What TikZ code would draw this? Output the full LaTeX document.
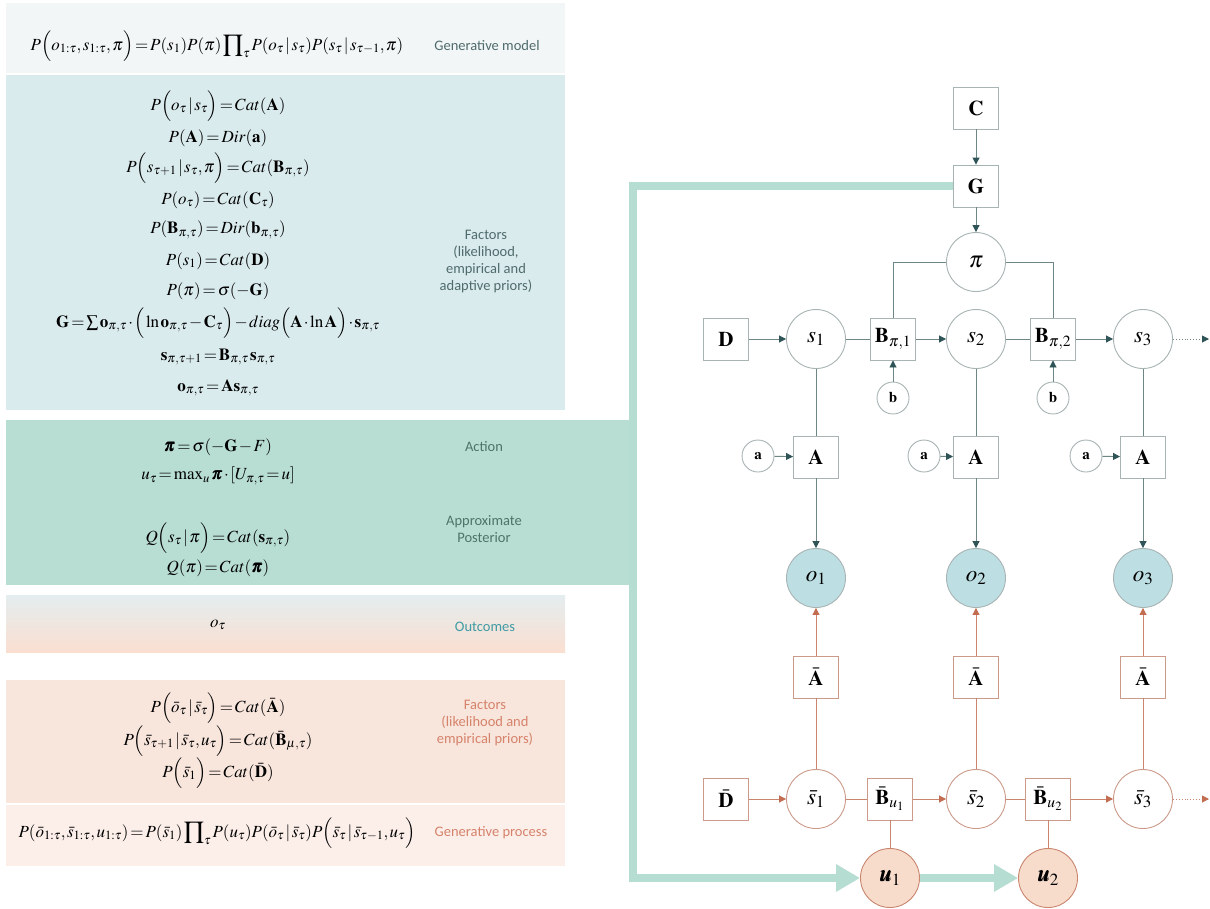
\documentclass[tikz,border=0pt]{standalone}
\usepackage{amsmath}
\usepackage{mathptmx}
\usepackage{bm}
\usepackage[no-math]{fontspec}
\setmainfont{Liberation Serif}
\newfontfamily\labfont{Carlito}
\usetikzlibrary{arrows.meta,shapes.geometric}
\definecolor{pone}{HTML}{F2F6F7}
\definecolor{ptwo}{HTML}{DAEBEE}
\definecolor{pthree}{HTML}{B8DDD3}
\definecolor{pfourtop}{HTML}{E4EDEF}
\definecolor{pfourbot}{HTML}{FADFD1}
\definecolor{pfive}{HTML}{F8E6DD}
\definecolor{psix}{HTML}{FCEFEA}
\definecolor{labA}{HTML}{4F6B6B}
\definecolor{labAct}{HTML}{4E7468}
\definecolor{labOut}{HTML}{3E9BA3}
\definecolor{labSal}{HTML}{D6826A}
\definecolor{boxgray}{HTML}{A8B3B3}
\definecolor{tlinec}{HTML}{6F8686}
\definecolor{tarrc}{HTML}{2E5457}
\definecolor{obsblue}{HTML}{BDDFE4}
\definecolor{salbox}{HTML}{CB9A8A}
\definecolor{sallc}{HTML}{C9856E}
\definecolor{salarr}{HTML}{C26C50}
\definecolor{upeach}{HTML}{F8DCCB}
\definecolor{thickc}{HTML}{B6DDD1}
\newcommand{\tightmath}{\thickmuskip=2mu plus 1mu\medmuskip=1.5mu plus 1mu\thinmuskip=1.5mu}
\tikzset{
  eq/.style={font=\fontsize{17}{21}\selectfont\tightmath, inner sep=0pt},
  lab/.style={font=\labfont\fontsize{14.5}{17}\selectfont, align=center, inner sep=0pt},
  tbox/.style={draw=boxgray, fill=white, line width=0.9pt, minimum width=45pt, minimum height=42pt, inner sep=0pt, font=\fontsize{21}{22}\selectfont},
  tcirc/.style={circle, draw=boxgray, fill=white, line width=0.9pt, minimum size=59pt, inner sep=0pt, font=\fontsize{23}{24}\selectfont},
  tsmall/.style={circle, draw=boxgray, fill=white, line width=0.9pt, minimum size=32pt, inner sep=0pt, font=\fontsize{15}{16}\selectfont},
  obs/.style={tcirc, fill=obsblue},
  sbox/.style={tbox, draw=salbox},
  scirc/.style={tcirc, draw=salbox},
  ucirc/.style={tcirc, draw=sallc, fill=upeach},
  tline/.style={draw=tlinec, line width=0.9pt},
  tarr/.style={tline, -{Triangle[length=7pt,width=7pt,color=tarrc]}},
  sline/.style={draw=sallc, line width=0.9pt},
  sarr/.style={sline, -{Triangle[length=7pt,width=7pt,color=salarr]}},
  thickline/.style={draw=thickc, line width=7.5pt},
  thickarr/.style={thickline, -{Triangle[length=24pt,width=26pt]}}
}
\begin{document}
\begin{tikzpicture}[x=1pt,y=-1pt]
\useasboundingbox (0,0) rectangle (1210,908);
\fill[white] (0,0) rectangle (1210,908);
% panels
\fill[pone] (6,3) rectangle (565,73);
\fill[ptwo] (6,75) rectangle (565,410);
\fill[pthree] (6,420) rectangle (633,585);
\shade[top color=pfourtop, bottom color=pfourbot] (6,595) rectangle (565,652);
\fill[pfive] (6,680) rectangle (565,803);
\fill[psix] (6,805) rectangle (565,866);

% panel 1
\node[eq] (e0) at (217,46) {$P\Big(o_{1:\tau},s_{1:\tau},\pi\Big)=P(s_1)P(\pi)\displaystyle\prod\nolimits_{\tau}P(o_\tau\,|\,s_\tau)P(s_\tau\,|\,s_{\tau-1},\pi)$};
\node[lab, text=labA] (l0) at (487,46) {Generative model};

% panel 2
\node[eq] (f1) at (218,106) {$P\Big(o_\tau\,|\,s_\tau\Big)=Cat(\mathbf{A})$};
\node[eq] (f2) at (218,138) {$P(\mathbf{A})=Dir(\mathbf{a})$};
\node[eq] (f3) at (218,168) {$P\Big(s_{\tau+1}\,|\,s_\tau,\pi\Big)=Cat(\mathbf{B}_{\pi,\tau})$};
\node[eq] (f4) at (218,200) {$P(o_\tau)=Cat(\mathbf{C}_\tau)$};
\node[eq] (f5) at (218,230) {$P(\mathbf{B}_{\pi,\tau})=Dir(\mathbf{b}_{\pi,\tau})$};
\node[eq] (f6) at (218,261) {$P(s_1)=Cat(\mathbf{D})$};
\node[eq] (f7) at (218,291) {$P(\pi)=\sigma(-\mathbf{G})$};
\node[eq] (f8) at (218,323) {$\mathbf{G}=\sum\mathbf{o}_{\pi,\tau}\cdot\Big(\ln\mathbf{o}_{\pi,\tau}-\mathbf{C}_\tau\Big)-diag\Big(\mathbf{A}\cdot\ln\mathbf{A}\Big)\cdot\mathbf{s}_{\pi,\tau}$};
\node[eq] (f9) at (218,357) {$\mathbf{s}_{\pi,\tau+1}=\mathbf{B}_{\pi,\tau}\,\mathbf{s}_{\pi,\tau}$};
\node[eq] (f10) at (218,388) {$\mathbf{o}_{\pi,\tau}=\mathbf{A}\mathbf{s}_{\pi,\tau}$};
\node[lab, text=labA] (l1) at (486,262) {Factors\\(likelihood,\\empirical and\\adaptive priors)};

% panel 3
\node[eq] (g1) at (218,447) {$\bm{\pi}=\sigma(-\mathbf{G}-F)$};
\node[eq] (g2) at (218,476) {$u_\tau=\max\nolimits_u\bm{\pi}\cdot[U_{\pi,\tau}=u]$};
\node[eq] (g3) at (218,538) {$Q\Big(s_\tau\,|\,\pi\Big)=Cat(\mathbf{s}_{\pi,\tau})$};
\node[eq] (g4) at (218,568) {$Q(\pi)=Cat(\bm{\pi})$};
\node[lab, text=labAct] (l2) at (484,447) {Action};
\node[lab, text=labAct] (l3) at (484,529) {Approximate\\Posterior};

% panel 4
\node[eq] (h1) at (218,625) {$o_\tau$};
\node[lab, text=labOut] (l4) at (485,627) {Outcomes};

% panel 5
\node[eq] (k1) at (218,708) {$P\Big(\bar{o}_\tau\,|\,\bar{s}_\tau\Big)=Cat(\bar{\mathbf{A}})$};
\node[eq] (k2) at (218,741) {$P\Big(\bar{s}_{\tau+1}\,|\,\bar{s}_\tau,u_\tau\Big)=Cat(\bar{\mathbf{B}}_{\mu,\tau})$};
\node[eq] (k3) at (218,773) {$P\Big(\bar{s}_1\Big)=Cat(\bar{\mathbf{D}})$};
\node[lab, text=labSal] (l5) at (485,723) {Factors\\(likelihood and\\empirical priors)};

% panel 6
\node[eq] (m1) at (217,833) {$P(\bar{o}_{1:\tau},\bar{s}_{1:\tau},u_{1:\tau})=P(\bar{s}_1)\displaystyle\prod\nolimits_{\tau}P(u_\tau)P(\bar{o}_\tau\,|\,\bar{s}_\tau)P\Big(\bar{s}_\tau\,|\,\bar{s}_{\tau-1},u_\tau\Big)$};
\node[lab, text=labSal] (l6) at (491,833) {Generative process};

% thick policy-to-action path
\node[tbox] (G) at (976,186) {$\mathbf{G}$};
\coordinate (k1c) at (633,186);
\coordinate (k2c) at (633,878);
\node[ucirc] (u1) at (890,878) {$\bm{u}_1$};
\node[ucirc] (u2) at (1048,878) {$\bm{u}_2$};
\draw[thickarr, line join=miter] (G.west) -- (k1c) -- (k2c) -- (u1.west);
\draw[thickarr] (u1.east) -- (u2.west);

% top graph
\node[tbox] (C) at (976,108) {$\mathbf{C}$};
\node[tcirc] (pi) at (976,262) {$\pi$};
\node[tbox] (D) at (726,339) {$\mathbf{D}$};
\node[tcirc] (s1) at (816,339) {$s_1$};
\node[tbox] (B1) at (893,339) {$\mathbf{B}_{\pi,1}$};
\node[tcirc] (s2) at (976,339) {$s_2$};
\node[tbox] (B2) at (1053,339) {$\mathbf{B}_{\pi,2}$};
\node[tcirc] (s3) at (1143,339) {$s_3$};
\coordinate (send) at (1209,339);
\node[tsmall] (b1) at (893,398) {$\mathbf{b}$};
\node[tsmall] (b2) at (1053,398) {$\mathbf{b}$};
\node[tsmall] (a1) at (758,456) {$\mathbf{a}$};
\node[tsmall] (a2) at (924,456) {$\mathbf{a}$};
\node[tsmall] (a3) at (1086,456) {$\mathbf{a}$};
\node[tbox] (A1) at (816,457) {$\mathbf{A}$};
\node[tbox] (A2) at (976,457) {$\mathbf{A}$};
\node[tbox] (A3) at (1143,457) {$\mathbf{A}$};
\node[obs] (o1) at (816,578) {$o_1$};
\node[obs] (o2) at (976,578) {$o_2$};
\node[obs] (o3) at (1143,578) {$o_3$};

\draw[tarr] (C) -- (G);
\draw[tarr] (G) -- (pi);
\draw[tline] (pi.west) -| (B1.north);
\draw[tline] (pi.east) -| (B2.north);
\draw[tarr] (D) -- (s1);
\draw[tline] (s1) -- (B1);
\draw[tarr] (B1) -- (s2);
\draw[tline] (s2) -- (B2);
\draw[tarr] (B2) -- (s3);
\draw[tarr, dotted] (s3) -- (send);
\draw[tarr] (b1) -- (B1);
\draw[tarr] (b2) -- (B2);
\draw[tline] (s1) -- (A1);
\draw[tline] (s2) -- (A2);
\draw[tline] (s3) -- (A3);
\draw[tarr] (a1) -- (A1);
\draw[tarr] (a2) -- (A2);
\draw[tarr] (a3) -- (A3);
\draw[tarr] (A1) -- (o1);
\draw[tarr] (A2) -- (o2);
\draw[tarr] (A3) -- (o3);

% bottom graph
\node[sbox] (Ab1) at (816,677) {$\bar{\mathbf{A}}$};
\node[sbox] (Ab2) at (976,677) {$\bar{\mathbf{A}}$};
\node[sbox] (Ab3) at (1143,677) {$\bar{\mathbf{A}}$};
\node[sbox] (Db) at (726,799) {$\bar{\mathbf{D}}$};
\node[scirc] (sb1) at (816,799) {$\bar{s}_1$};
\node[sbox] (Bb1) at (890,799) {$\bar{\mathbf{B}}_{u_1}$};
\node[scirc] (sb2) at (976,799) {$\bar{s}_2$};
\node[sbox] (Bb2) at (1048,799) {$\bar{\mathbf{B}}_{u_2}$};
\node[scirc] (sb3) at (1143,799) {$\bar{s}_3$};
\coordinate (sbend) at (1209,799);

\draw[sarr] (Ab1) -- (o1);
\draw[sarr] (Ab2) -- (o2);
\draw[sarr] (Ab3) -- (o3);
\draw[sline] (sb1) -- (Ab1);
\draw[sline] (sb2) -- (Ab2);
\draw[sline] (sb3) -- (Ab3);
\draw[sarr] (Db) -- (sb1);
\draw[sline] (sb1) -- (Bb1);
\draw[sarr] (Bb1) -- (sb2);
\draw[sline] (sb2) -- (Bb2);
\draw[sarr] (Bb2) -- (sb3);
\draw[sarr, dotted] (sb3) -- (sbend);
\draw[sline] (Bb1) -- (u1);
\draw[sline] (Bb2) -- (u2);
\end{tikzpicture}
\end{document}
